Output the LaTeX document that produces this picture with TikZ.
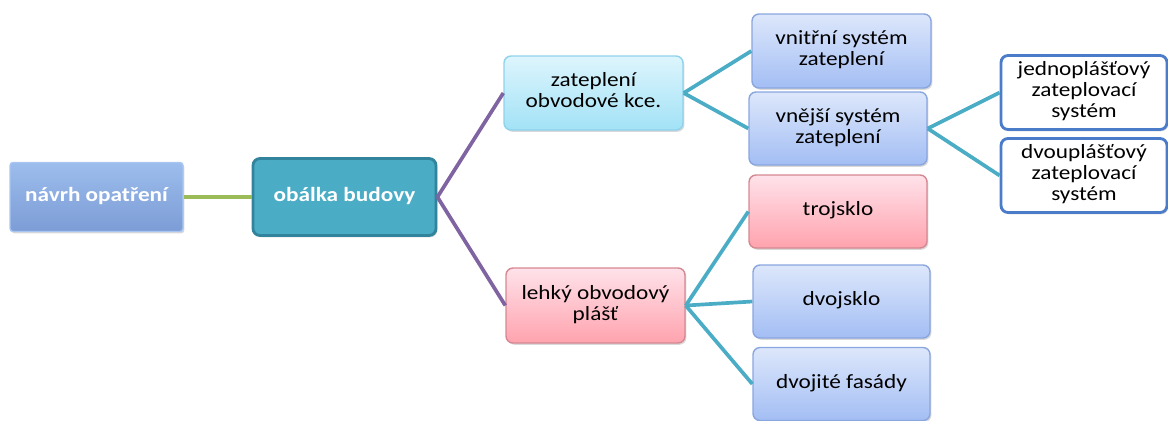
\documentclass[tikz,border=0pt]{standalone}
\usepackage{fontspec}
\usepackage{graphicx}
\setmainfont{Carlito}
\usetikzlibrary{shadows}
\definecolor{lgreen}{HTML}{9BBB59}
\definecolor{lpurple}{HTML}{8064A2}
\definecolor{lcyan}{HTML}{4BACC6}
\definecolor{obfill}{HTML}{4BACC6}
\definecolor{obdraw}{HTML}{31849B}
\definecolor{bltop}{HTML}{DDE7FB}
\definecolor{blbot}{HTML}{A3BEF4}
\definecolor{bldraw}{HTML}{8AA6DF}
\definecolor{pktop}{HTML}{FFE2EA}
\definecolor{pkbot}{HTML}{FFA3AE}
\definecolor{pkdraw}{HTML}{D58892}
\definecolor{cytop}{HTML}{DDF5FD}
\definecolor{cybot}{HTML}{A2E2F6}
\definecolor{cydraw}{HTML}{8FD2EC}
\definecolor{whdraw}{HTML}{4A7CC9}
\definecolor{nvtop}{HTML}{9CBDEC}
\definecolor{nvbot}{HTML}{7C9CD6}
\definecolor{nvdraw}{HTML}{A9C6F2}
\newcommand{\wt}[1]{\scalebox{1.15}[1.0]{\begin{tabular}{@{}c@{}}#1\end{tabular}}}
\tikzset{
  px/.style={x=0.02cm,y=-0.02cm},
  box/.style={rounded corners=0.14cm, align=center, font=\fontsize{11.5}{12}\selectfont, text=black,
     inner sep=2pt, drop shadow={shadow xshift=0.8pt,shadow yshift=-1pt,opacity=0.3}},
  bluebox/.style={box, top color=bltop, bottom color=blbot, draw=bldraw, line width=0.8pt},
  pinkbox/.style={box, top color=pktop, bottom color=pkbot, draw=pkdraw, line width=0.8pt},
  cyanbox/.style={box, top color=cytop, bottom color=cybot, draw=cydraw, line width=0.8pt},
  whitebox/.style={box, fill=white, draw=whdraw, line width=1.6pt},
  conn/.style={line width=2.1pt},
}
\begin{document}
\begin{tikzpicture}[px]
\useasboundingbox (0,0) rectangle (1168,420);
% nodes
\node[box, rounded corners=0.06cm, top color=nvtop, bottom color=nvbot, draw=nvdraw, line width=0.8pt,
      text=white, font=\fontsize{11.5}{12}\selectfont\bfseries, minimum width=173*0.02cm, minimum height=69*0.02cm]
      (navrh) at (96.5,197) {\wt{návrh opatření}};
\node[box, fill=obfill, draw=obdraw, line width=1.6pt, text=white, font=\fontsize{11.5}{12}\selectfont\bfseries,
      minimum width=183*0.02cm, minimum height=77*0.02cm] (obalka) at (344.5,197) {\wt{obálka budovy}};
\node[cyanbox, minimum width=179*0.02cm, minimum height=74*0.02cm] (zatep) at (593.5,93) {\wt{zateplení\\obvodové kce.}};
\node[pinkbox, minimum width=179*0.02cm, minimum height=75*0.02cm] (lehky) at (595.5,305.5) {\wt{lehký obvodový\\plášť}};
\node[bluebox, minimum width=179*0.02cm, minimum height=74*0.02cm] (vnitrni) at (841.5,51) {\wt{vnitřní systém\\zateplení}};
\node[bluebox, minimum width=178*0.02cm, minimum height=73*0.02cm] (vnejsi) at (838,128.5) {\wt{vnější systém\\zateplení}};
\node[pinkbox, minimum width=178*0.02cm, minimum height=73*0.02cm] (troj) at (838,211.5) {\wt{trojsklo}};
\node[bluebox, minimum width=177*0.02cm, minimum height=73*0.02cm] (dvoj) at (841.5,301.5) {\wt{dvojsklo}};
\node[bluebox, minimum width=177*0.02cm, minimum height=73*0.02cm] (dvojf) at (841.5,384) {\wt{dvojité fasády}};
\node[whitebox, minimum width=166*0.02cm, minimum height=74*0.02cm] (jedno) at (1084,92.5) {\wt{jednoplášťový\\zateplovací\\systém}};
\node[whitebox, minimum width=166*0.02cm, minimum height=74*0.02cm] (dvou) at (1084,175.5) {\wt{dvouplášťový\\zateplovací\\systém}};
% connectors
\draw[conn, lgreen] (navrh.east) -- (obalka.west);
\draw[conn, lpurple] (obalka.east) -- (zatep.west);
\draw[conn, lpurple] (obalka.east) -- (lehky.west);
\draw[conn, lcyan] (zatep.east) -- (vnitrni.west);
\draw[conn, lcyan] (zatep.east) -- (vnejsi.west);
\draw[conn, lcyan] (vnejsi.east) -- (jedno.west);
\draw[conn, lcyan] (vnejsi.east) -- (dvou.west);
\draw[conn, lcyan] (lehky.east) -- (troj.west);
\draw[conn, lcyan] (lehky.east) -- (dvoj.west);
\draw[conn, lcyan] (lehky.east) -- (dvojf.west);
\end{tikzpicture}
\end{document}
